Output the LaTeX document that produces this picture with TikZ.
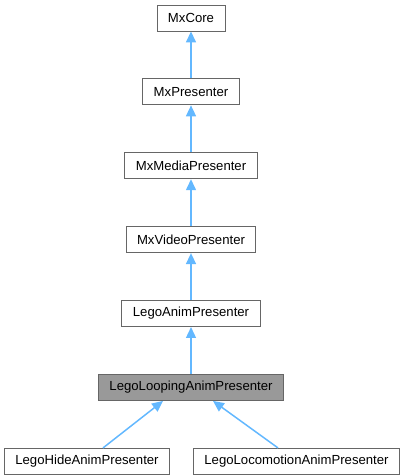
\documentclass[tikz,border=0pt]{standalone}
\usepackage{fontspec}
\setmainfont{Liberation Sans}
\usepackage{tikz}
\usetikzlibrary{arrows.meta,positioning}
\definecolor{edgeblue}{HTML}{63B8FF}
\definecolor{boxgray}{HTML}{666666}
\definecolor{hlgray}{HTML}{999999}
\tikzstyle{class}=[rectangle,draw=boxgray,line width=0.9pt,fill=white,
minimum height=26bp,inner xsep=11pt,inner ysep=0pt,
font=\fontsize{13.2}{15}\selectfont]
\tikzstyle{hclass}=[class,fill=hlgray]
\tikzstyle{inherit}=[{Triangle[width=10pt,length=11pt]}-,draw=edgeblue,
fill=edgeblue,line width=1.5pt]

\begin{document}
\begin{tikzpicture}[x=1bp,y=1bp,node distance=47bp]
            \useasboundingbox (0,0) rectangle (405,-476);

            % Mx PART

            \node[class] at (191,-18) (core) {MxCore};
            \node[class, below=of core] (pres) {MxPresenter};
            \node[class, below=of pres] (media) {MxMediaPresenter};
            \node[class, below=of media] (video) {MxVideoPresenter};

            % Lego PART

            \node[class, below=of video] (anim) {LegoAnimPresenter};
            \node[hclass, below=of anim] (loop) {LegoLoopingAnimPresenter};
            \node[class, below=of loop, xshift=-104bp] (hide) {LegoHideAnimPresenter};
            \node[class, below=of loop, xshift=105.5bp] (loco) {LegoLocomotionAnimPresenter};

            % Inheritance

            \draw[inherit] (core) -- (pres);
            \draw[inherit] (pres) -- (media);
            \draw[inherit] (media) -- (video);
            \draw[inherit] (video) -- (anim);
            \draw[inherit] (anim) -- (loop);
            \draw[inherit] ([xshift=-28bp]loop.south) -- ([xshift=16bp]hide.north);
            \draw[inherit] ([xshift=22bp]loop.south) -- ([xshift=-18.5bp]loco.north);

        \end{tikzpicture}
\end{document}
